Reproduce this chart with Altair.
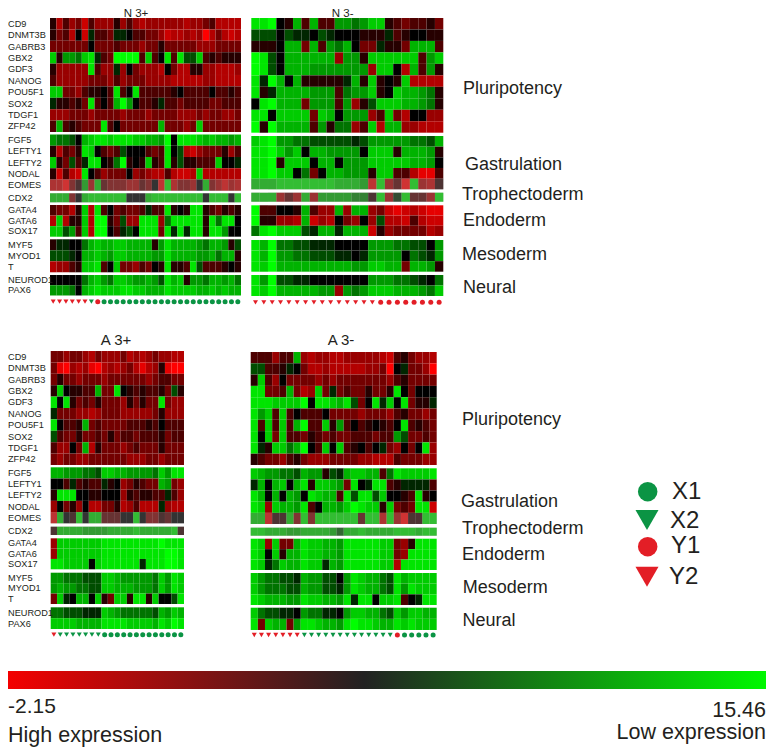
import altair as alt
import pandas as pd

GENES = ["CD9","DNMT3B","GABRB3","GBX2","GDF3","NANOG","POU5F1","SOX2","TDGF1","ZFP42",
         "FGF5","LEFTY1","LEFTY2","NODAL","EOMES","CDX2","GATA4","GATA6","SOX17",
         "MYF5","MYOD1","T","NEUROD1","PAX6"]
GROUP_SIZES = [10, 5, 1, 3, 3, 2]
MUTED = {"EOMES", "CDX2"}

# each char is an expression level in base 17: 0 = brightest red, 8 = black, g = brightest green
N3P = ["7364526444"+"7464344444"+"4344563333",
       "7563829665"+"9986655423"+"3434035323",
       "5555558555"+"6555455755"+"5554445555",
       "e7ccbef965"+"gggg6e68f6"+"faae676777",
       "744444f644"+"9485444385"+"3377443334",
       "6444445554"+"6455544443"+"3333443333",
       "ee55467786"+"f68f666667"+"8666686676",
       "977675f686"+"dgc8667966"+"5666655666",
       "4445554555"+"5455545555"+"4445455445",
       "6d676555f6"+"8555555d55"+"545e555555",
       "cbba8deffe"+"fffeeddcg8"+"fffededdcd",
       "73657fe865"+"6a888656f8"+"a324555746",
       "e75a69ff87"+"bg787e76f7"+"a77666e889",
       "72632f8645"+"5584543363"+"223e333333",
       "33157c4d65"+"55446582e3"+"5548d54243",
       "ddd58deeee"+"ee888deeee"+"eeee8eee8e",
       "65537e3f68"+"56556966f7"+"87ff765767",
       "3e377e3gg7"+"5a44fff4bf"+"ffff7fbff8",
       "eeac6e3gg8"+"69a8fff5f9"+"f9ff7ffc88",
       "79988bdedd"+"eedddd7cfd"+"dddcbddc7a",
       "aaa98ddedc"+"eeddddccfd"+"dddccdbdd7",
       "34467eef68"+"e5546587f7"+"76fa666787",
       "88888bdecb"+"eedccdcafd"+"e7ccbddcdb",
       "cccb8defee"+"effeedddfe"+"eeeddededd"]
N3M = ["ffg87d6d66"+"ccbcee7656675",
       "aaa8a998a9"+"8887779678877",
       "7778dd5d6c"+"bd8559775ddd6",
       "gfa8dddddd"+"4cc7eeeeee6ce",
       "gfa8dddccc"+"cccc4ee83d6c7",
       "f9gd8d7777"+"79d7e787e3333",
       "f79ddddccc"+"6bcce78eddcb7",
       "8fgddd5ccc"+"6c47aeeeddcb7",
       "ff8eeee5ed"+"8ccc46e538844",
       "g7gdddd6c7"+"bb46e3dd44333",
       "efgccbbaaa"+"aa9acccccbbad",
       "ffgece8ddc"+"ccc8eee7dddc7",
       "ffg7eee8dd"+"8ccceeeeeddc8",
       "ffgee8b58d"+"dccc7ee663116",
       "dddeeeeeee"+"dddc2e461e437",
       "ddd464d4cc"+"ccbb7e49e664e",
       "g66887d644"+"d4dd452123211",
       "g77443d243"+"85484a3326322",
       "bfgeeea9dd"+"9ddd274555534",
       "fdgbbaa999"+"8888cccbbaa8c",
       "fdgccbbaaa"+"9989cccc8ba9c",
       "fegddddddd"+"ddcceedd5ddc7",
       "fcgaa99888"+"8888cccbba98b",
       "fegdddddcc"+"4cbceeedddcbe"]
A3P = ["5545543544"+"4534345443"+"3",
       "5104341034"+"3453134710"+"0",
       "5755455545"+"5555545665"+"5",
       "7e87766d55"+"f87676675a"+"7",
       "f8f7565755"+"5475755f54"+"4",
       "9555443455"+"5444445744"+"4",
       "f8667d5655"+"5566676866"+"6",
       "a655755657"+"5665666756"+"6",
       "64485d3755"+"5456555755"+"5",
       "5455445555"+"5544455455"+"5",
       "ddcccbbaee"+"ddccccbecf"+"f",
       "8869676697"+"8457655dc5"+"4",
       "7fff887788"+"8476776696"+"4",
       "4857483355"+"7346333943"+"3",
       "2d87e8dd66"+"688e855768"+"8",
       "7ddddccccd"+"dddeddddde"+"7",
       "4eeeeeeeff"+"fffffffgff"+"f",
       "4eeeeeeeff"+"ffffffffgg"+"f",
       "ffeeee8eff"+"ffff9fffgg"+"f",
       "ccbbbaaaee"+"dcccccbecf"+"e",
       "cdccbbaaee"+"dddcccbecf"+"e",
       "5e98dd8e75"+"ee7ff7e88a"+"f",
       "bbaaa999ed"+"cbbbbbadce"+"d",
       "eeeeddddff"+"ffeeeedfeg"+"f"]
A3M = ["666466d434"+"4334444432"+"675443",
       "aa66798533"+"4333334450"+"895540",
       "7e64855554"+"5455555554"+"675555",
       "ff556d534e"+"5956557557"+"f85888",
       "fffeeeeg8f"+"fedfa58f9e"+"8f5779",
       "fce6e68666"+"8555545554"+"675545",
       "f6e6e6dg66"+"e7c6867876"+"8f6765",
       "f8e5e66576"+"5655666566"+"ca5565",
       "f97eebdg86"+"e8e6786895"+"4858f4",
       "7655467544"+"4555544333"+"655544",
       "edccbbadcc"+"7a9deedd6b"+"feeeef",
       "9d8de8df7e"+"edc5f89ff6"+"799996",
       "fd8d8dc8fe"+"dd6faffae8"+"876f78",
       "fe4eddcf68"+"ddcegfee7e"+"565ff2",
       "dd277d5e5e"+"eeeee6ee3e"+"4177ee",
       "eedddccddd"+"dcaddedddd"+"eeedee",
       "fe4e55dfee"+"ddcfffffee"+"547fff",
       "fe8e7ddfee"+"ddcfffffee"+"54ffff",
       "fe9beddfee"+"9dcfffffee"+"3fffff",
       "ecbbaa9dcc"+"aa8cfeddba"+"fdeeee",
       "ecbbbaadcc"+"aa9cfeddba"+"fcfeee",
       "fedddccfee"+"ddcf9ff8ee"+"f689ff",
       "ebaa998cbb"+"998ceeddba"+"eceedd",
       "f5edd5cffe"+"ddcfgffedd"+"fefeee"]

N3P_MARKS = ["Y2"]*6 + ["X2"] + ["Y1"] + ["X1"]*22
N3M_MARKS = ["Y2"]*15 + ["Y1"]*8
A3P_MARKS = ["Y2"] + ["X2"]*7 + ["X1"]*13
A3M_MARKS = ["Y2"]*7 + ["X2"]*13 + ["Y1"] + ["X1"]*5

VMIN, VMAX = -2.15, 15.46
VSTEP = (VMAX - VMIN) / 16
TYPE_COLOR = {"X1": "#0b9444", "X2": "#0b9444", "Y1": "#e31e26", "Y2": "#e31e26"}
TYPE_SHAPE = {"X1": "circle", "X2": "triangle-down", "Y1": "circle", "Y2": "triangle-down"}
TEXT = "#231f20"

# panel layout: left, right, group edges (top, bottom), marker line
PANELS = [
    ("N 3+", N3P, N3P_MARKS, 50.0, 241.0,
     [(18, 132), (134.5, 190.7), (193.3, 202.3), (205, 236.7), (239.3, 272.3), (275, 295.5)], 301.7, True),
    ("N 3-", N3M, N3M_MARKS, 251.3, 443.3,
     [(18, 132.7), (136, 189.3), (192.7, 201.7), (205.3, 236), (240, 271.7), (275, 296)], 302.3, False),
    ("A 3+", A3P, A3P_MARKS, 50.7, 184.0,
     [(351, 465), (467.3, 523.3), (526.7, 535), (538.3, 569.3), (572.7, 604), (607.3, 629)], 634.7, True),
    ("A 3-", A3M, A3M_MARKS, 250.7, 436.7,
     [(352, 465), (468.3, 524), (527.7, 535.7), (538.7, 570), (573, 605), (607.7, 630)], 635, False),
]

cells, marks, genes = [], [], []
for title, rows, mtypes, left, right, edges, my, labelled in PANELS:
    assert all(len(r) == len(mtypes) for r in rows), title
    cw = (right - left) / len(mtypes)
    r = 0
    for size, (top, bot) in zip(GROUP_SIZES, edges):
        rh = (bot - top) / size
        for k in range(size):
            gene = GENES[r]
            y0 = top + k * rh
            for c, ch in enumerate(rows[r]):
                cells.append(dict(gene=gene, x=left + c * cw, x2=left + (c + 1) * cw,
                                  y=y0, y2=y0 + rh,
                                  value=VMIN + int(ch, 17) * VSTEP,
                                  op=0.68 if gene in MUTED else 1.0))
            if labelled:
                genes.append(dict(t=gene, x=8, y=y0 + rh / 2, s=9.2))
            r += 1
    for c, m in enumerate(mtypes):
        marks.append(dict(x=left + (c + 0.5) * cw, y=my, size=25, color=TYPE_COLOR[m], shape=TYPE_SHAPE[m]))

LEGEND = [("X1", 647.7, 491.7, 672, 492), ("X2", 647, 520, 670, 521),
          ("Y1", 647.7, 546.7, 671, 546), ("Y2", 647, 576.7, 669, 576.7)]
for name, mx, my, _, _ in LEGEND:
    marks.append(dict(x=mx, y=my, size=380 if TYPE_SHAPE[name] == "circle" else 530,
                      color=TYPE_COLOR[name], shape=TYPE_SHAPE[name]))

cells = pd.DataFrame(cells)
marks = pd.DataFrame(marks)

left_text = genes + [dict(t=n, x=tx, y=ty, s=24) for n, _, _, tx, ty in LEGEND] + [
    dict(t="Pluripotency", x=463, y=89, s=18), dict(t="Gastrulation", x=465, y=165, s=18),
    dict(t="Trophectoderm", x=462, y=195, s=18), dict(t="Endoderm", x=463, y=221, s=18),
    dict(t="Mesoderm", x=462, y=255, s=18), dict(t="Neural", x=463, y=288, s=18),
    dict(t="Pluripotency", x=462, y=420, s=18), dict(t="Gastrulation", x=461, y=501.7, s=18),
    dict(t="Trophectoderm", x=462, y=528.5, s=18), dict(t="Endoderm", x=462, y=555, s=18),
    dict(t="Mesoderm", x=462.7, y=587.5, s=18), dict(t="Neural", x=462.5, y=621, s=18),
    dict(t="-2.15", x=8, y=707, s=21), dict(t="High expression", x=8, y=736, s=21.5),
]
center_text = [dict(t="N 3+", x=136, y=14, s=11.5), dict(t="N 3-", x=342.7, y=14, s=11.5),
               dict(t="A 3+", x=116, y=339.5, s=15), dict(t="A 3-", x=341, y=340, s=15)]
right_text = [dict(t="15.46", x=766, y=711, s=21.5), dict(t="Low expression", x=766, y=733, s=21.5)]

X = alt.X("x:Q", scale=alt.Scale(domain=[8, 766]), axis=None)
Y = alt.Y("y:Q", scale=alt.Scale(domain=[749, 8]), axis=None)

backdrop = alt.Chart(cells[cells.gene.isin(MUTED)]).mark_rect(color="#a0a0a0").encode(
    x=X, x2="x2:Q", y=Y, y2="y2:Q")
heat = alt.Chart(cells).mark_rect(stroke="#ffffff", strokeWidth=0.4, strokeOpacity=0.06).encode(
    x=X, x2="x2:Q", y=Y, y2="y2:Q",
    color=alt.Color("value:Q", legend=None,
                    scale=alt.Scale(domain=[VMIN, VMIN + 4 * VSTEP, VMIN + 8 * VSTEP, VMIN + 12 * VSTEP, VMAX],
                                    range=["#ff0000", "#990000", "#000000", "#009900", "#00ff00"],
                                    interpolate="rgb")),
    opacity=alt.Opacity("op:Q", scale=None),
)
points = alt.Chart(marks).mark_point(filled=True, opacity=1).encode(
    x=X, y=Y,
    size=alt.Size("size:Q", scale=None),
    color=alt.Color("color:N", scale=None),
    shape=alt.Shape("shape:N", scale=None),
)

def text_layer(rows, align):
    return alt.Chart(pd.DataFrame(rows)).mark_text(
        align=align, baseline="middle", font="Liberation Sans", color=TEXT
    ).encode(x=X, y=Y, text="t:N", size=alt.Size("s:Q", scale=None))

bar = alt.Chart(pd.DataFrame([dict(x=8, x2=766, y=671, y2=689)])).mark_rect(
    color={"gradient": "linear", "x1": 0, "x2": 1, "y1": 0, "y2": 0,
           "stops": [{"offset": 0, "color": "#f40000"},
                     {"offset": 0.47, "color": "#222222"},
                     {"offset": 1, "color": "#00f800"}]}
).encode(x=X, x2="x2:Q", y=Y, y2="y2:Q")

chart = alt.layer(
    backdrop, heat, points, bar,
    text_layer(left_text, "left"), text_layer(center_text, "center"), text_layer(right_text, "right"),
).resolve_scale(color="independent", size="independent").properties(
    width=758, height=741, padding=0, autosize=alt.AutoSizeParams(type="none"), background="white",
).configure_view(stroke=None)

chart.save("out.html", embed_options={"renderer": "svg", "actions": False})
